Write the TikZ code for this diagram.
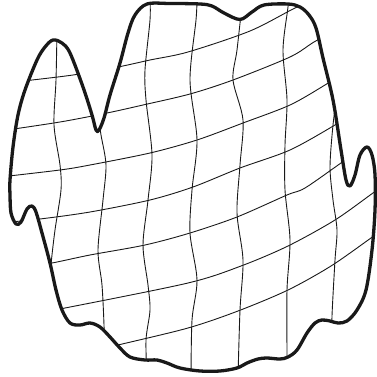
\documentclass[tikz,border=0pt]{standalone}
\begin{document}
\begin{tikzpicture}[x=1pt,y=-1pt,
  outline/.style={line width=3.3pt, line join=round, draw=black!90},
  gridline/.style={line width=0.9pt, draw=black!90}]
\useasboundingbox (0,0) rectangle (376,377);
\path[save path=\outl] plot[smooth cycle, tension=0.55] coordinates {
 (147,4) (170,3.5) (200,4) (212,6) (224,13) (240,19.5) (252,12) (264,5) (288,4)
 (300,7) (309,15) (316,28) (323,58) (333,100) (341,150) (346,180) (350,186) (355,175) (360,155)
 (367,147) (372,155) (375,175) (375,210) (372,250) (366,290) (357,310) (347,321)
 (338,323) (330,321) (322,320) (315,323) (307,333) (297,350) (288,357) (280,359)
 (267,358) (258,359) (247,363) (237,368) (220,371) (200,371) (180,368) (167,363)
 (157,360) (145,360) (130,357) (120,348) (110,337) (100,327) (90,323) (80,325)
 (70,323) (62,310) (56,290) (50,263) (42,233) (36,212)
 (32,206) (27,209) (21,222) (16,224) (11,213) (10,195) (10,180) (13,147) (18,115)
 (25,90) (37,60) (45,47) (53,40) (62,43) (70,53) (83,87) (92,115) (96,130) (99,130)
 (104,118) (110,95) (120,63) (128,33) (135,15)};
\begin{scope}
\clip[use path=\outl];
% horizontal lines
\draw[gridline] plot[smooth] coordinates {(0,84) (15,82) (73,75) (118,67) (150,60) (188,52) (250,31) (295,8) (315,0)};
\draw[gridline] plot[smooth] coordinates {(0,131) (60,122) (107,113) (143,105) (190,94) (233,80) (290,57) (314,42) (340,28)};
\draw[gridline] plot[smooth] coordinates {(0,177) (60,170) (90,165) (150,153) (197,140) (243,123) (290,105) (325,85) (345,72)};
\draw[gridline] plot[smooth] coordinates {(0,223) (40,219) (90,212) (150,200) (193,187) (240,168) (290,150) (335,125) (355,112)};
\draw[gridline] plot[smooth] coordinates {(20,268) (52,263) (90,255) (145,245) (190,233) (237,217) (287,195) (305,188) (341,163) (360,150)};
\draw[gridline] plot[smooth] coordinates {(30,314) (65,308) (188,283) (241,266) (288,246) (335,220) (373,193) (385,185)};
\draw[gridline] plot[smooth] coordinates {(80,354) (118,345) (188,328) (238,311) (288,290) (331,266) (371,238) (385,228)};
% vertical lines
\draw[gridline] plot[smooth] coordinates {(57,30) (56,80) (54,125) (60,165) (61,190) (55,230) (51,265) (50,290)};
\draw[gridline] plot[smooth] coordinates {(98,115) (101,135) (106,165) (103,200) (98,250) (102,285) (104,325) (104,345)};
\draw[gridline] plot[smooth] coordinates {(150,0) (150,20) (145,70) (146,100) (152,155) (148,200) (143,245) (148,285) (150,310) (146,340) (147,377)};
\draw[gridline] plot[smooth] coordinates {(197,0) (196,20) (190,80) (197,140) (192,190) (190,233) (197,280) (192,320) (191,377)};
\draw[gridline] plot[smooth] coordinates {(242,5) (237,50) (233,80) (243,120) (240,165) (237,213) (243,260) (240,310) (238,377)};
\draw[gridline] plot[smooth] coordinates {(288,0) (288,7) (283,50) (287,100) (285,145) (285,190) (290,240) (287,290) (287,355) (287,377)};
\draw[gridline] plot[smooth] coordinates {(337,95) (333,125) (330,167) (333,200) (337,230) (335,260) (332,316) (332,345)};
\end{scope}
\draw[outline, use path=\outl];
\end{tikzpicture}
\end{document}
